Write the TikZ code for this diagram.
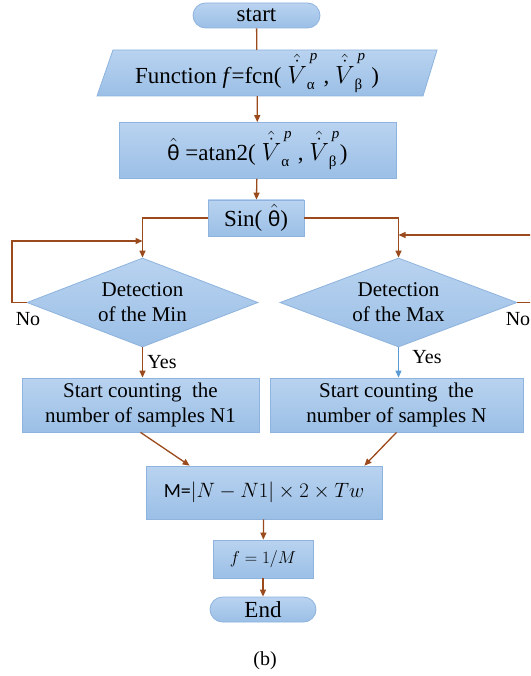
\documentclass[tikz,border=0pt]{standalone}
\usepackage{fontspec}
\setmainfont{Liberation Serif}
\newfontfamily\tms{Liberation Serif}
\newfontfamily\sansui{Carlito}
\usetikzlibrary{shapes.geometric,arrows.meta,calc}

\definecolor{boxtop}{HTML}{B9D3F0}
\definecolor{boxbot}{HTML}{9BBFE6}
\definecolor{boxline}{HTML}{8DB3DE}
\definecolor{flow}{HTML}{9A4A1C}
\definecolor{flowblue}{HTML}{5B9BD5}

% hatted, dotted voltage with an upright Greek index
\newcommand{\Vhp}[1]{\hat{\dot{V}}_{\hbox{\tms\fontsize{15}{15}\selectfont #1}}^{\,\hbox{\tms\itshape\fontsize{15}{15}\selectfont p}}}
\newcommand{\thhat}{\hat{\hbox{\sansui θ}}}

\begin{document}
\begin{tikzpicture}[x=1pt,y=-1pt,
  blk/.style={draw=boxline, line width=0.8pt, top color=boxtop, bottom color=boxbot, inner sep=0pt},
  box/.style={blk, rectangle, align=center},
  term/.style={blk, rectangle, rounded corners=12.5pt, minimum height=25pt},
  dia/.style={blk, diamond},
  txt/.style={font=\tms\fontsize{21}{25}\selectfont, align=center},
  big/.style={font=\tms\fontsize{23}{27}\selectfont},
  flowline/.style={draw=flow, line width=1.3pt},
  arr/.style={flowline, -{Triangle[length=7pt,width=6pt]}},
  arrblue/.style={draw=flowblue, line width=0.9pt, -{Triangle[length=7pt,width=6pt]}},
  lbl/.style={font=\tms\fontsize{20}{24}\selectfont}
]
\useasboundingbox (0,0) rectangle (530,676);
\clip (0,0) rectangle (530,676);

% terminals and process boxes
\node[term, minimum width=127pt, big] (start) at (256.5,15.5) {start};

\path[blk] (113,50) -- (437,50) -- (423,96) -- (97,96) -- cycle;
\node[big, minimum width=326pt, minimum height=46pt, inner sep=0pt] (func) at (257,73)
  {Function \textit{f}=fcn( $\Vhp{α}$ , $\Vhp{β}$ )};

\node[box, minimum width=277pt, minimum height=56pt, big] (atan) at (257.5,150.5)
  {$\thhat$ =atan2( $\Vhp{α}$ , $\Vhp{β}$)};

\node[box, minimum width=96pt, minimum height=36pt, big] (sin) at (256,218) {Sin( $\thhat$)};

% decisions
\node[dia, minimum width=231pt, minimum height=89pt] (min) at (142.5,302.5) {};
\node[txt] at (min) {Detection\\of the Min};
\node[dia, minimum width=237pt, minimum height=89pt] (max) at (398.5,302.5) {};
\node[txt] at (max) {Detection\\of the Max};

\node[box, minimum width=237pt, minimum height=54pt, txt] (cntA) at (140.5,405)
  {Start counting\ \ the\\number of samples N1};
\node[box, minimum width=253pt, minimum height=54pt, txt] (cntB) at (396.5,405)
  {Start counting\ \ the\\number of samples N};

\node[box, minimum width=236pt, minimum height=53pt, font=\fontsize{20}{24}\selectfont] (mbox) at (264,492.5)
  {{\sansui M=}$|N-N1|\times2\times Tw$};
\node[box, minimum width=100pt, minimum height=38pt, font=\fontsize{19}{23}\selectfont] (fbox) at (263,559)
  {$f=1/M$};
\node[term, minimum width=106pt, big] (end) at (263,609.5) {End};

\node[lbl] (cap) at (265,661) {(b)};

% connectors
\draw[flowline] (start) -- (func);
\draw[arr] (func) -- (atan);
\draw[arr] (atan) -- (sin);
\draw[arr] (sin.west) -| (min.north);
\draw[arr] (sin.east) -| (max.north);

\coordinate (lj) at (142.5,241);
\coordinate (lc) at (12,302.5);
\draw[arr] (min.west) -- (lc) |- (lj);
\coordinate (rj) at (398.5,235);
\coordinate (rc) at (536,302.5);
\draw[arr] (max.east) -- (rc) |- (rj);

\node[lbl] (noA) at (28,319) {No};
\node[lbl] (noB) at (518,319) {No};

\draw[arr] (min.south) -- (min.south |- cntA.north);
\node[lbl] (yesA) at (162,362) {Yes};
\draw[arrblue] (max.south) -- (max.south |- cntB.north);
\node[lbl] (yesB) at (427,357) {Yes};

\draw[arr] (cntA.south) -- ($(mbox.north west)!0.186!(mbox.north east)$);
\draw[arr] (cntB.south) -- ($(mbox.north west)!0.924!(mbox.north east)$);
\draw[arr] (mbox) -- (fbox);
\draw[arr] (fbox) -- (end);
\end{tikzpicture}
\end{document}
